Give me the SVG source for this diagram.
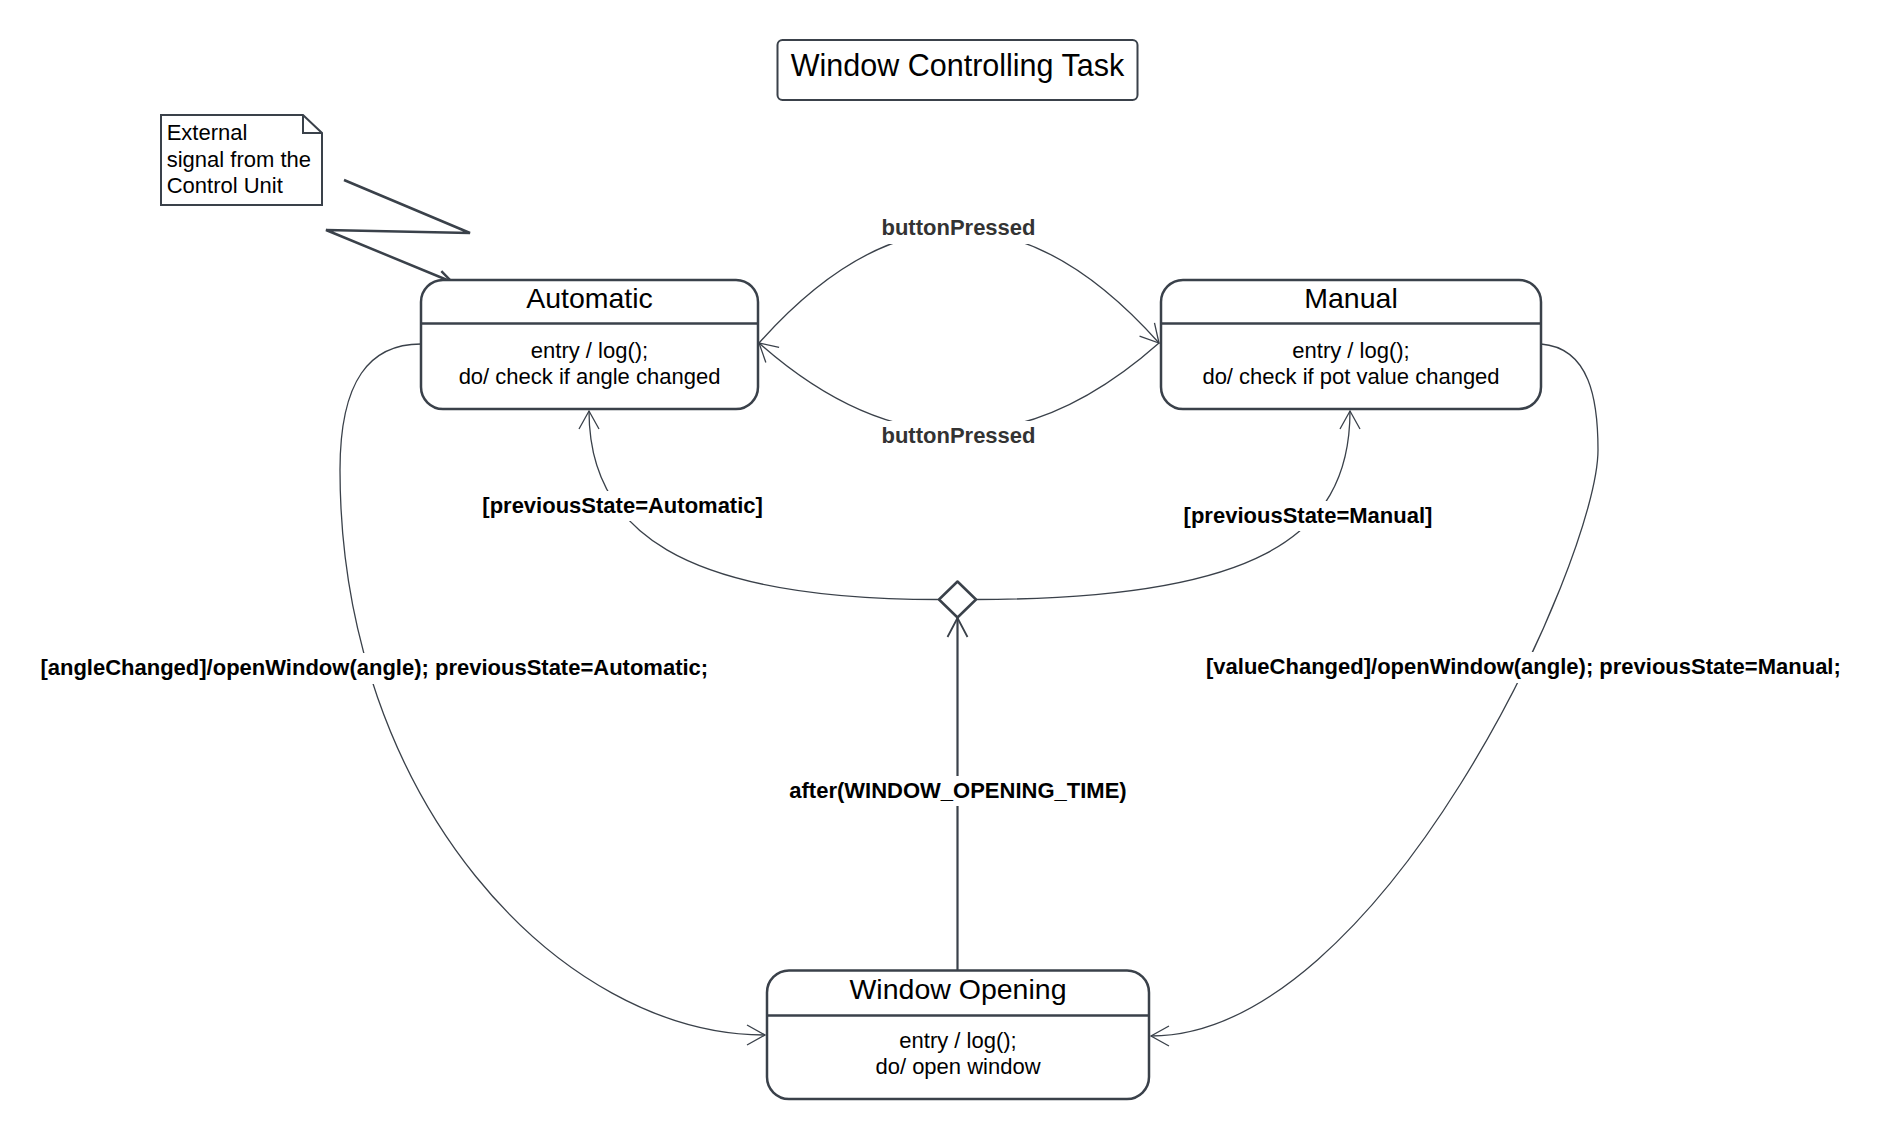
<svg xmlns="http://www.w3.org/2000/svg" width="1886" height="1140" viewBox="0 0 1886 1140">
  <defs>
    <style>
      .node { fill: #ffffff; stroke: #3a414a; stroke-width: 2.5; }
      .div { stroke: #3a414a; stroke-width: 2.5; }
      .conn { fill: none; stroke: #3a414a; stroke-width: 1.3; }
      .thick { fill: none; stroke: #3a414a; stroke-width: 2.2; }
      .signal { fill: none; stroke: #3a414a; stroke-width: 2.5; stroke-linejoin: miter; }
      .t { font-family: "Liberation Sans", Arial, sans-serif; fill: #000000; }
      .title { font-size: 28.5px; text-anchor: middle; }
      .body { font-size: 22px; text-anchor: middle; }
      .lbl { font-family: "Liberation Sans", Arial, sans-serif; font-size: 22px; font-weight: bold; fill: #000000; }
      .bp { fill: #333333; }
      .bg { fill: #ffffff; stroke: none; }
    </style>
    <marker id="arr" markerUnits="userSpaceOnUse" viewBox="-22 -13 25 26" markerWidth="25" markerHeight="26" refX="0" refY="0" orient="auto">
      <path d="M-18,-10 L0,0 L-18,10" fill="none" stroke="#3a414a" stroke-width="1.3"/>
    </marker>
    <marker id="arrThick" markerUnits="userSpaceOnUse" viewBox="-22 -13 25 26" markerWidth="25" markerHeight="26" refX="0" refY="0" orient="auto">
      <path d="M-19,-10 L0,0 L-19,10" fill="none" stroke="#3a414a" stroke-width="1.8"/>
    </marker>
    <marker id="arrSignal" markerUnits="userSpaceOnUse" viewBox="-18 -10 20 20" markerWidth="20" markerHeight="20" refX="0" refY="0" orient="auto">
      <path d="M-14,-6 L0,0 L-14,6" fill="none" stroke="#3a414a" stroke-width="2.5"/>
    </marker>
  </defs>

  <rect width="1886" height="1140" fill="#ffffff"/>

  <g id="connectors">
    <path class="conn" d="M759,343 Q959,119 1159,343" marker-end="url(#arr)"/>
    <path class="conn" d="M1159,343 Q959,520 759,343" marker-end="url(#arr)"/>
    <path class="conn" d="M939,599.5 C680,599.5 589,530 589,411" marker-end="url(#arr)"/>
    <path class="conn" d="M976,599.5 C1250,599.5 1350,540 1350,411" marker-end="url(#arr)"/>
    <path class="thick" d="M957.5,970 L957.5,618" marker-end="url(#arrThick)"/>
    <path class="conn" d="M421,344 C370,344 340,380 340,470 C340,800 560,1035 765,1035" marker-end="url(#arr)"/>
    <path class="conn" d="M1541,344 C1590,348 1598,400 1598,450 C1598,560 1380,1036 1151,1036" marker-end="url(#arr)"/>
    <path class="signal" d="M344,180 L470,233 L326,230 L452,282" marker-end="url(#arrSignal)"/>

    <g id="labels">
      <rect class="bg" x="880" y="213" width="158" height="31"/>
      <text class="lbl bp" x="958.5" y="235" text-anchor="middle">buttonPressed</text>
      <rect class="bg" x="880" y="421" width="158" height="31"/>
      <text class="lbl bp" x="958.5" y="442.7" text-anchor="middle">buttonPressed</text>
      <rect class="bg" x="480" y="491" width="286" height="30"/>
      <text class="lbl" x="622.6" y="512.7" text-anchor="middle">[previousState=Automatic]</text>
      <rect class="bg" x="1181" y="501" width="254" height="30"/>
      <text class="lbl" x="1308" y="523.3" text-anchor="middle">[previousState=Manual]</text>
      <rect class="bg" x="38" y="653" width="676" height="31"/>
      <text class="lbl" x="40.4" y="675">[angleChanged]/openWindow(angle); previousState=Automatic;</text>
      <rect class="bg" x="1204" y="652" width="642" height="31"/>
      <text class="lbl" x="1206" y="674">[valueChanged]/openWindow(angle); previousState=Manual;</text>
      <rect class="bg" x="787" y="776" width="342" height="30"/>
      <text class="lbl" x="958" y="797.5" text-anchor="middle">after(WINDOW_OPENING_TIME)</text>
    </g>
  </g>

  <g id="title">
    <rect x="777.5" y="40" width="360" height="60" rx="5" ry="5" fill="#ffffff" stroke="#3a414a" stroke-width="2"/>
    <text class="t" x="957.5" y="75.7" font-size="30.5" text-anchor="middle">Window Controlling Task</text>
  </g>

  <g id="note">
    <path d="M161,115 L303,115 L322,133 L322,205 L161,205 Z" fill="#ffffff" stroke="#3a414a" stroke-width="2"/>
    <path d="M303,115 L303,133 L322,133" fill="none" stroke="#3a414a" stroke-width="2"/>
    <text class="t" font-size="22" x="166.7" y="140">External</text>
    <text class="t" font-size="22" x="166.7" y="166.5">signal from the</text>
    <text class="t" font-size="22" x="166.7" y="193">Control Unit</text>
  </g>

  <g id="automatic">
    <rect class="node" x="421" y="280" width="337" height="129" rx="22" ry="22"/>
    <line class="div" x1="421" y1="323.5" x2="758" y2="323.5"/>
    <text class="t title" x="589.5" y="307.5">Automatic</text>
    <text class="t body" x="589.5" y="358.3">entry / log();</text>
    <text class="t body" x="589.5" y="384">do/ check if angle changed</text>
  </g>

  <g id="manual">
    <rect class="node" x="1161" y="280" width="380" height="129" rx="22" ry="22"/>
    <line class="div" x1="1161" y1="323.5" x2="1541" y2="323.5"/>
    <text class="t title" x="1351" y="308">Manual</text>
    <text class="t body" x="1351" y="358.3">entry / log();</text>
    <text class="t body" x="1351" y="384.3">do/ check if pot value changed</text>
  </g>

  <g id="window-opening">
    <rect class="node" x="767" y="970.5" width="382" height="128.5" rx="22" ry="22"/>
    <line class="div" x1="767" y1="1015.4" x2="1149" y2="1015.4"/>
    <text class="t title" x="958" y="998.6">Window Opening</text>
    <text class="t body" x="958" y="1048.2">entry / log();</text>
    <text class="t body" x="958" y="1074.3">do/ open window</text>
  </g>

  <g id="choice">
    <polygon points="957.5,581.5 976,599.5 957.5,617.5 939,599.5" fill="#ffffff" stroke="#3a414a" stroke-width="2.5" stroke-linejoin="round"/>
  </g>
</svg>
